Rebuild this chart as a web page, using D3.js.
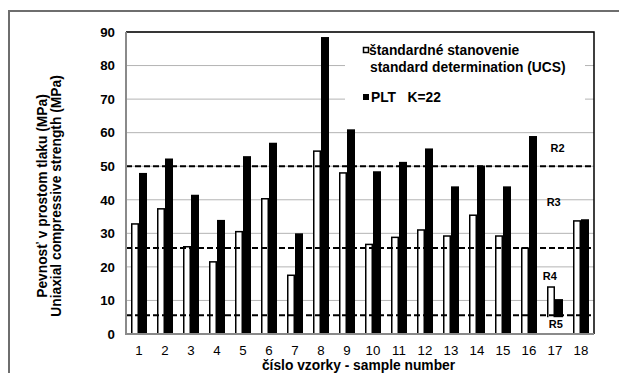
<!DOCTYPE html>
<html>
<head>
<meta charset="utf-8">
<script src="https://cdn.jsdelivr.net/npm/d3@7"></script>
<style>
  body { margin: 0; background: #fff; }
  svg { display: block; font-family: "Liberation Sans", Arial, sans-serif; }
</style>
</head>
<body>
<div id="chart"></div>
<script>
// sample numbers 1..18
let samples = ["1","2","3","4","5","6","7","8","9","10","11","12","13","14","15","16","17","18"];
// standard determination (UCS), MPa
let ucs = [32.8, 37.3, 26, 21.5, 30.5, 40.3, 17.5, 54.5, 48, 26.7, 28.8, 31, 29.2, 35.4, 29.2, 25.6, 14, 33.7];
// PLT K=22, MPa
let plt = [48, 52.3, 41.5, 34, 53, 57, 30, 88.5, 61, 48.5, 51.3, 55.3, 44, 50.2, 44, 59, 10.4, 34.2];
let yTicks = [0, 10, 20, 30, 40, 50, 60, 70, 80, 90];
// class limits (dashed lines) and labels
let limits = [50, 25.6, 5.6];
let classLabels = [
    {name: "R2", v: 55.5, at: 16.6, box: false},
    {name: "R3", v: 39.3, at: 16.45, box: false},
    {name: "R4", v: 17.3, at: 16.3, box: false},
    {name: "R5", v: 2.9, at: 16.53, box: true}
];

let width = 619, height = 373;
let margin = {top: 32, right: 25, bottom: 39, left: 126};
let plotW = width - margin.left - margin.right,
    plotH = height - margin.top - margin.bottom;
let fs = 13.3;   // tick labels
let fsb = 13.8;  // bold titles and legend

let svg = d3.select("#chart").append("svg")
    .attr("width", width)
    .attr("height", height);

// outer frame (cut off at right and bottom)
svg.append("rect")
    .attr("x", 9).attr("y", 11)
    .attr("width", 640).attr("height", 400)
    .attr("fill", "none")
    .attr("stroke", "#6e6e6e")
    .attr("stroke-width", 2);

let g = svg.append("g")
    .attr("transform", "translate(" + margin.left + "," + margin.top + ")");

let x = d3.scaleBand()
    .domain(samples)
    .range([0, plotW])
    .paddingInner(10 / 26)
    .paddingOuter(5 / 26);

let xSub = d3.scaleBand()
    .domain(["ucs", "plt"])
    .range([0, x.bandwidth()]);

let y = d3.scaleLinear()
    .domain([0, 90])
    .range([plotH, 0]);

// gridlines
g.selectAll(".grid")
    .data(yTicks.slice(1))
    .enter().append("line")
    .attr("class", "grid")
    .attr("x1", 0).attr("x2", plotW)
    .attr("y1", d => y(d)).attr("y2", d => y(d))
    .attr("stroke", "#b4b4b4")
    .attr("stroke-width", 1);

// legend background hides the gridlines behind it
g.append("rect")
    .attr("x", 345 - margin.left).attr("y", 40 - margin.top)
    .attr("width", 240).attr("height", 68)
    .attr("fill", "#fff");

// bars
let groups = g.selectAll(".sample")
    .data(samples)
    .enter().append("g")
    .attr("class", "sample")
    .attr("transform", d => "translate(" + x(d) + ",0)");

groups.append("rect")
    .attr("x", xSub("ucs") + 0.75)
    .attr("width", xSub.bandwidth() - 1.5)
    .attr("y", (d, i) => y(ucs[i]))
    .attr("height", (d, i) => plotH - y(ucs[i]))
    .attr("fill", "#fff")
    .attr("stroke", "#000")
    .attr("stroke-width", 1.5);

groups.append("rect")
    .attr("x", xSub("plt"))
    .attr("width", xSub.bandwidth())
    .attr("y", (d, i) => y(plt[i]))
    .attr("height", (d, i) => plotH - y(plt[i]))
    .attr("fill", "#000");

// dashed class limits
g.selectAll(".limit")
    .data(limits)
    .enter().append("line")
    .attr("class", "limit")
    .attr("x1", 0).attr("x2", plotW)
    .attr("y1", d => y(d)).attr("y2", d => y(d))
    .attr("stroke", "#000")
    .attr("stroke-width", 2)
    .attr("stroke-dasharray", "6,3");

// white box behind R5 (covers the bars below the lowest limit)
classLabels.filter(d => d.box).forEach(function (d) {
    g.append("rect")
        .attr("x", d.at * x.step() - 12)
        .attr("y", y(limits[2]) + 2)
        .attr("width", 24)
        .attr("height", plotH - y(limits[2]) - 2)
        .attr("fill", "#fff");
});

// plot border: top/right black, axes grey
g.append("path")
    .attr("d", "M0,0H" + plotW + "V" + plotH)
    .attr("fill", "none")
    .attr("stroke", "#000")
    .attr("stroke-width", 1.5);
g.append("path")
    .attr("d", "M0,0V" + plotH + "H" + plotW)
    .attr("fill", "none")
    .attr("stroke", "#8a8a8a")
    .attr("stroke-width", 2);

// class labels
g.selectAll(".cls")
    .data(classLabels)
    .enter().append("text")
    .attr("class", "cls")
    .attr("x", d => d.at * x.step())
    .attr("y", d => y(d.v))
    .attr("dy", "0.35em")
    .attr("text-anchor", "middle")
    .attr("font-size", 11)
    .attr("font-weight", "bold")
    .text(d => d.name);

// y axis
let yAxis = g.append("g")
    .call(d3.axisLeft(y).tickValues(yTicks).tickSize(0).tickPadding(11));
yAxis.select(".domain").remove();
yAxis.selectAll("text")
    .attr("font-family", "Liberation Sans, Arial, sans-serif")
    .attr("font-size", fs)
    .attr("font-weight", "bold")
    .attr("fill", "#000");

// x axis
let xAxis = g.append("g")
    .attr("transform", "translate(0," + plotH + ")")
    .call(d3.axisBottom(x).tickSize(0).tickPadding(12));
xAxis.select(".domain").remove();
xAxis.selectAll("text")
    .attr("font-family", "Liberation Sans, Arial, sans-serif")
    .attr("font-size", fs)
    .attr("fill", "#000");

// axis titles
svg.append("text")
    .attr("x", margin.left + plotW / 2 - 1.5)
    .attr("y", 370)
    .attr("text-anchor", "middle")
    .attr("font-size", fsb)
    .attr("font-weight", "bold")
    .text("číslo vzorky - sample number");

let yTitle = svg.append("text")
    .attr("transform", "translate(0,196) rotate(-90)")
    .attr("text-anchor", "middle")
    .attr("font-size", fsb)
    .attr("font-weight", "bold");
yTitle.append("tspan").attr("x", 0).attr("y", 47).text("Pevnosť v prostom tlaku (MPa)");
yTitle.append("tspan").attr("x", 0).attr("y", 61).text("Uniaxial compressive strength (MPa)");

// legend
let legend = svg.append("g");
legend.append("rect")
    .attr("x", 363.5).attr("y", 47.5)
    .attr("width", 5).attr("height", 5)
    .attr("fill", "#fff")
    .attr("stroke", "#000")
    .attr("stroke-width", 1.5);
legend.append("text")
    .attr("x", 369).attr("y", 55)
    .attr("font-size", fsb)
    .attr("font-weight", "bold")
    .text("štandardné stanovenie");
legend.append("text")
    .attr("x", 370).attr("y", 72)
    .attr("font-size", fsb)
    .attr("font-weight", "bold")
    .text("standard determination (UCS)");
legend.append("rect")
    .attr("x", 363).attr("y", 94)
    .attr("width", 6).attr("height", 6)
    .attr("fill", "#000");
legend.append("text")
    .attr("x", 371).attr("y", 102)
    .attr("font-size", fsb)
    .attr("font-weight", "bold")
    .attr("xml:space", "preserve")
    .text("PLT   K=22");
</script>
</body>
</html>
